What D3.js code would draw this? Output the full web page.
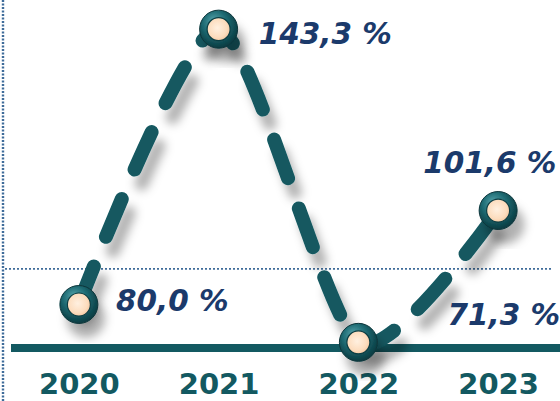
<!DOCTYPE html>
<html>
<head>
<meta charset="utf-8">
<script src="https://cdn.jsdelivr.net/npm/d3@7/dist/d3.min.js"></script>
<style>
  html, body { margin: 0; padding: 0; background: #ffffff; }
  svg { display: block; }
</style>
</head>
<body>
<svg id="chart" width="560" height="401"></svg>
<script>
// ---- data ----
const years = ["2020", "2021", "2022", "2023"];
const values = [80.0, 143.3, 71.3, 101.6];
const valueLabels = ["80,0 %", "143,3 %", "71,3 %", "101,6 %"];
const yDomain = [70, 150];
const refLineValue = 88.2;

// label placement relative to marker (layout config)
const labelOffsets = [[37, 6], [40, 15], [89, -17], [-75, -38]];

const W = 560, H = 401;
const teal = "#135961";
const navy = "#1b3a6b";
const dotBlue = "#3f6c9a";

const svg = d3.select("#chart");
const defs = svg.append("defs");

const sh = defs.append("filter").attr("id", "shadow")
  .attr("x", "-50%").attr("y", "-50%").attr("width", "200%").attr("height", "200%");
sh.append("feDropShadow").attr("dx", 7).attr("dy", 14).attr("stdDeviation", 5)
  .attr("flood-color", "#000").attr("flood-opacity", 0.3);

const ringGrad = defs.append("radialGradient").attr("id", "ringGrad")
  .attr("cx", "45%").attr("cy", "40%").attr("r", "60%").attr("fx", "35%").attr("fy", "25%");
ringGrad.append("stop").attr("offset", "0%").attr("stop-color", "#4f9ea6");
ringGrad.append("stop").attr("offset", "55%").attr("stop-color", "#1c6870");
ringGrad.append("stop").attr("offset", "100%").attr("stop-color", "#0a3b41");

const coreGrad = defs.append("radialGradient").attr("id", "coreGrad")
  .attr("cx", "45%").attr("cy", "45%").attr("r", "60%");
coreGrad.append("stop").attr("offset", "0%").attr("stop-color", "#fff0e0");
coreGrad.append("stop").attr("offset", "70%").attr("stop-color", "#fcdcbd");
coreGrad.append("stop").attr("offset", "100%").attr("stop-color", "#f2c39c");

// ---- scales ----
const x = d3.scalePoint().domain(years).range([9, 568]).padding(0.5);
const y = d3.scaleLinear().domain(yDomain).range([348, 0]);

// left dotted axis line
svg.append("line")
  .attr("x1", 3).attr("x2", 3).attr("y1", 0).attr("y2", H)
  .attr("stroke", dotBlue).attr("stroke-width", 2.4).attr("stroke-dasharray", "2,1.5");

// dotted reference line
svg.append("line")
  .attr("x1", 5).attr("x2", 553).attr("y1", y(refLineValue)).attr("y2", y(refLineValue))
  .attr("stroke", dotBlue).attr("stroke-width", 1.8).attr("stroke-dasharray", "2,2");

// baseline
svg.append("line")
  .attr("x1", 11).attr("x2", W).attr("y1", y(yDomain[0])).attr("y2", y(yDomain[0]))
  .attr("stroke", teal).attr("stroke-width", 8);

// x axis labels
const xAxis = d3.axisBottom(x).tickSize(0).tickPadding(0);
const gx = svg.append("g").attr("transform", `translate(0,${y(yDomain[0])})`).call(xAxis);
gx.select(".domain").remove();
gx.selectAll("text")
  .attr("y", 46).attr("dy", 0)
  .attr("fill", teal)
  .style("font-family", "'DejaVu Sans', Verdana, sans-serif")
  .style("font-weight", "bold")
  .style("font-size", "29px");

// line
const pts = years.map((yr, i) => [x(yr), y(values[i])]);
const line = d3.line().curve(d3.curveCardinal.tension(0.3));
svg.append("path")
  .attr("d", line(pts))
  .attr("fill", "none")
  .attr("stroke", teal)
  .attr("stroke-width", 14)
  .attr("stroke-linecap", "round")
  .attr("stroke-dasharray", "41,32")
  .attr("filter", "url(#shadow)");

// markers
const mk = svg.selectAll("g.mk").data(years).enter().append("g")
  .attr("class", "mk")
  .attr("transform", (d, i) => `translate(${x(d)},${y(values[i])})`);
mk.append("circle").attr("r", 19).attr("fill", "url(#ringGrad)")
  .attr("stroke", "#0a353a").attr("stroke-width", 1).attr("filter", "url(#shadow)");
mk.append("circle").attr("r", 11.5).attr("fill", "url(#coreGrad)")
  .attr("stroke", "#0b3d43").attr("stroke-width", 1.2);

// value labels
svg.selectAll("text.val").data(years).enter().append("text")
  .attr("class", "val")
  .attr("x", (d, i) => x(d) + labelOffsets[i][0])
  .attr("y", (d, i) => y(values[i]) + labelOffsets[i][1])
  .attr("fill", navy)
  .style("font-family", "'DejaVu Sans', Verdana, sans-serif")
  .style("font-weight", "bold")
  .style("font-style", "italic")
  .style("font-size", "29.5px")
  .text((d, i) => valueLabels[i]);
</script>
</body>
</html>
